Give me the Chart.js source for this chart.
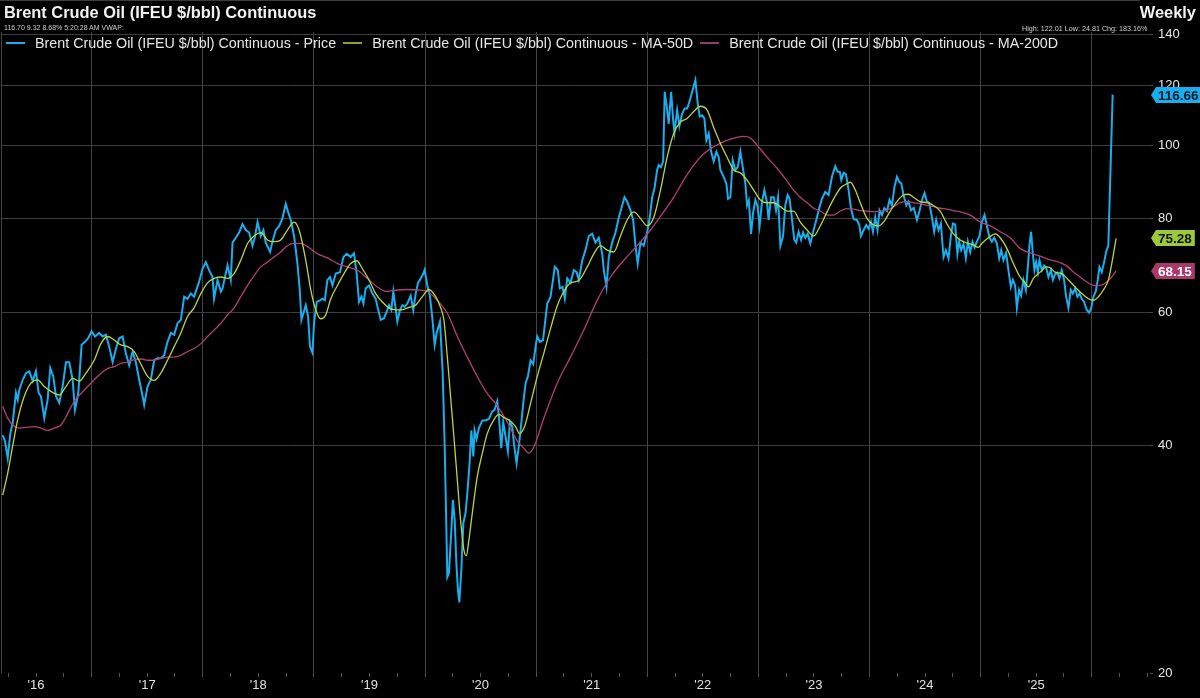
<!DOCTYPE html>
<html>
<head>
<meta charset="utf-8">
<title>Brent Crude Oil (IFEU $/bbl) Continuous</title>
<script src="https://cdn.jsdelivr.net/npm/chart.js"></script>
<style>
  html, body { margin: 0; padding: 0; background: #000; }
  #wrap { position: relative; width: 1200px; height: 698px; background: #000; overflow: hidden;
          font-family: Arial, "Liberation Sans", sans-serif; color: #e6e6e6; }
  #wrap canvas { position: absolute; left: 0; top: 0; }
  .topline { position: absolute; left: 0; top: 0; width: 1140px; height: 1px; background: #3c3c3c; }
  .title { position: absolute; left: 4px; top: 3px; font-size: 16.4px; font-weight: bold; color: #f2f2f2; white-space: nowrap; }
  .weekly { position: absolute; right: 4px; top: 3px; font-size: 16.4px; font-weight: bold; color: #f2f2f2; }
  .quote { position: absolute; left: 4px; top: 24px; font-size: 7px; line-height: 8px; color: #cfcfcf; white-space: nowrap; }
  .range { position: absolute; left: 1022px; top: 25px; font-size: 7.2px; line-height: 8px; color: #cfcfcf; white-space: nowrap; }
  #legend { position: absolute; left: 6px; top: 35px; font-size: 14.3px; line-height: 16px; color: #e6e6e6; white-space: nowrap; }
  #legend .item { display: inline-block; margin-right: 7px; }
  #legend .swatch { display: inline-block; width: 19px; height: 0; vertical-align: middle; margin-right: 10px; position: relative; top: -1px; }
</style>
</head>
<body>
<div id="wrap">
  <canvas id="brentChart"></canvas>
  <div class="topline"></div>
  <div class="title">Brent Crude Oil (IFEU $/bbl) Continuous</div>
  <div class="weekly">Weekly</div>
  <div class="quote">116.70 9.32 8.68% 5:20:28 AM VWAP:</div>
  <div class="range">High: 122.01 Low: 24.81 Chg: 183.16%</div>
  <div id="legend"></div>
</div>
<script>
  // weekly closes, dates as decimal years
  const priceDates = [
    2016.200, 2016.221, 2016.245, 2016.268, 2016.290, 2016.319, 2016.335, 2016.349, 2016.380, 2016.409,
    2016.439, 2016.470, 2016.499, 2016.523, 2016.544, 2016.574, 2016.604, 2016.628, 2016.655, 2016.679,
    2016.709, 2016.739, 2016.769, 2016.799, 2016.829, 2016.850, 2016.880, 2016.910, 2016.940, 2016.969,
    2017.000, 2017.030, 2017.068, 2017.099, 2017.129, 2017.158, 2017.189, 2017.219, 2017.248, 2017.279,
    2017.308, 2017.338, 2017.369, 2017.398, 2017.428, 2017.459, 2017.473, 2017.503, 2017.533, 2017.563,
    2017.593, 2017.623, 2017.653, 2017.683, 2017.713, 2017.743, 2017.773, 2017.803, 2017.833, 2017.863,
    2017.893, 2017.922, 2017.967, 2017.998, 2018.028, 2018.057, 2018.088, 2018.102, 2018.133, 2018.163,
    2018.178, 2018.207, 2018.223, 2018.252, 2018.268, 2018.297, 2018.327, 2018.358, 2018.387, 2018.417,
    2018.448, 2018.468, 2018.493, 2018.522, 2018.546, 2018.567, 2018.606, 2018.627, 2018.657, 2018.687,
    2018.717, 2018.747, 2018.768, 2018.792, 2018.822, 2018.852, 2018.873, 2018.888, 2018.927, 2018.948,
    2018.965, 2018.987, 2019.001, 2019.026, 2019.055, 2019.077, 2019.098, 2019.122, 2019.145, 2019.167,
    2019.197, 2019.235, 2019.266, 2019.295, 2019.331, 2019.361, 2019.385, 2019.406, 2019.428, 2019.446,
    2019.466, 2019.496, 2019.527, 2019.556, 2019.577, 2019.601, 2019.631, 2019.655, 2019.676, 2019.697,
    2019.715, 2019.736, 2019.751, 2019.775, 2019.796, 2019.817, 2019.841, 2019.871, 2019.895, 2019.916,
    2019.937, 2019.961, 2019.985, 2019.997, 2020.021, 2020.044, 2020.066, 2020.087, 2020.105, 2020.135,
    2020.159, 2020.177, 2020.201, 2020.215, 2020.237, 2020.251, 2020.267, 2020.282, 2020.296, 2020.309,
    2020.327, 2020.345, 2020.365, 2020.381, 2020.401, 2020.417, 2020.435, 2020.446, 2020.464, 2020.485,
    2020.516, 2020.545, 2020.575, 2020.605, 2020.626, 2020.650, 2020.665, 2020.686, 2020.704, 2020.725,
    2020.746, 2020.764, 2020.785, 2020.800, 2020.824, 2020.845, 2020.860, 2020.884, 2020.905, 2020.926,
    2020.950, 2020.974, 2020.995, 2021.010, 2021.034, 2021.062, 2021.100, 2021.130, 2021.168, 2021.195,
    2021.213, 2021.238, 2021.258, 2021.280, 2021.309, 2021.339, 2021.364, 2021.384, 2021.415, 2021.444,
    2021.474, 2021.505, 2021.534, 2021.564, 2021.595, 2021.609, 2021.633, 2021.654, 2021.684, 2021.714,
    2021.744, 2021.774, 2021.795, 2021.819, 2021.849, 2021.873, 2021.894, 2021.914, 2021.939, 2021.968,
    2021.999, 2022.022, 2022.044, 2022.065, 2022.089, 2022.103, 2022.123, 2022.143, 2022.157, 2022.179,
    2022.193, 2022.215, 2022.233, 2022.245, 2022.269, 2022.289, 2022.314, 2022.337, 2022.359, 2022.379,
    2022.404, 2022.433, 2022.454, 2022.472, 2022.494, 2022.514, 2022.532, 2022.553, 2022.575, 2022.598,
    2022.622, 2022.643, 2022.658, 2022.688, 2022.712, 2022.727, 2022.748, 2022.769, 2022.793, 2022.815,
    2022.838, 2022.859, 2022.883, 2022.898, 2022.914, 2022.934, 2022.952, 2022.973, 2022.993, 2023.011,
    2023.033, 2023.054, 2023.078, 2023.092, 2023.114, 2023.139, 2023.159, 2023.177, 2023.198, 2023.222,
    2023.242, 2023.263, 2023.281, 2023.303, 2023.323, 2023.341, 2023.362, 2023.384, 2023.402, 2023.422,
    2023.443, 2023.467, 2023.491, 2023.521, 2023.551, 2023.572, 2023.602, 2023.632, 2023.662, 2023.692,
    2023.713, 2023.733, 2023.746, 2023.767, 2023.788, 2023.812, 2023.833, 2023.857, 2023.887, 2023.908,
    2023.923, 2023.947, 2023.971, 2023.992, 2024.013, 2024.031, 2024.052, 2024.072, 2024.090, 2024.112,
    2024.133, 2024.157, 2024.180, 2024.202, 2024.225, 2024.247, 2024.268, 2024.286, 2024.306, 2024.331,
    2024.351, 2024.373, 2024.398, 2024.427, 2024.450, 2024.472, 2024.495, 2024.516, 2024.537, 2024.562,
    2024.582, 2024.600, 2024.621, 2024.642, 2024.666, 2024.687, 2024.711, 2024.732, 2024.750, 2024.771,
    2024.791, 2024.807, 2024.825, 2024.846, 2024.867, 2024.885, 2024.906, 2024.927, 2024.946, 2024.966,
    2024.990, 2025.011, 2025.035, 2025.056, 2025.080, 2025.101, 2025.122, 2025.146, 2025.167, 2025.185,
    2025.205, 2025.229, 2025.250, 2025.272, 2025.290, 2025.310, 2025.326, 2025.346, 2025.364, 2025.385,
    2025.407, 2025.425, 2025.439, 2025.454, 2025.470, 2025.484, 2025.499, 2025.515, 2025.529, 2025.551,
    2025.571, 2025.589, 2025.610, 2025.632, 2025.650, 2025.670, 2025.691, 2025.709, 2025.730, 2025.751,
    2025.769, 2025.790, 2025.811, 2025.829, 2025.850, 2025.871, 2025.890, 2025.910, 2025.931, 2025.955,
    2025.976, 2025.994, 2026.015, 2026.036, 2026.054, 2026.069, 2026.090, 2026.111, 2026.129, 2026.149,
    2026.188
  ];
  const priceValues = [
    41.3, 40.5, 38.5, 41.5, 42.9, 47.0, 46.0, 47.4, 48.9, 49.9,
    50.2, 48.7, 50.2, 47.0, 46.5, 43.5, 46.0, 50.7, 49.4, 46.5,
    45.6, 47.9, 51.6, 51.6, 48.9, 44.6, 47.0, 54.4, 54.9, 55.5,
    56.7, 55.8, 56.4, 55.8, 56.1, 54.1, 51.6, 53.8, 55.5, 55.8,
    53.0, 51.1, 53.3, 51.6, 48.9, 46.5, 45.3, 47.9, 48.9, 51.9,
    52.2, 52.2, 52.7, 54.9, 56.4, 56.1, 58.1, 58.7, 63.0, 62.6,
    63.6, 63.0, 65.9, 68.6, 70.0, 68.3, 66.9, 62.6, 66.3, 64.0,
    64.6, 67.6, 69.3, 66.3, 74.3, 75.4, 76.6, 78.6, 77.2, 76.6,
    73.6, 75.4, 79.1, 75.8, 77.2, 74.3, 72.2, 74.5, 77.2, 78.1,
    80.0, 83.6, 81.6, 79.6, 75.8, 69.7, 64.3, 58.7, 61.4, 59.3,
    54.1, 53.1, 58.1, 62.0, 62.3, 62.6, 62.3, 66.3, 66.9, 65.2,
    67.6, 67.9, 71.1, 71.8, 71.1, 71.9, 67.6, 62.0, 63.0, 61.7,
    64.6, 65.2, 63.6, 62.6, 60.7, 58.7, 59.0, 60.2, 61.4, 60.5,
    64.0, 60.7, 58.4, 60.5, 61.4, 61.1, 61.7, 63.2, 60.5, 63.6,
    65.7, 66.6, 67.6, 68.4, 65.2, 63.2, 59.0, 54.4, 56.4, 58.4,
    50.0, 40.0, 26.8, 27.1, 30.9, 33.9, 31.9, 28.0, 25.8, 24.8,
    27.4, 31.6, 32.6, 34.6, 37.9, 41.9, 38.7, 41.9, 40.8, 42.2,
    43.2, 43.2, 43.4, 44.4, 44.6, 45.8, 43.7, 39.7, 43.0, 41.1,
    39.3, 43.0, 42.4, 40.3, 37.9, 40.0, 41.9, 45.5, 48.4, 49.4,
    51.9, 51.3, 54.1, 55.8, 54.9, 55.2, 61.7, 63.0, 69.0, 68.3,
    64.6, 64.9, 62.6, 66.6, 65.7, 68.3, 67.9, 66.3, 70.4, 72.6,
    75.8, 76.3, 74.3, 75.4, 71.8, 68.3, 64.9, 71.1, 74.3, 76.6,
    80.2, 83.2, 85.3, 84.2, 82.0, 79.6, 73.6, 69.7, 74.3, 73.6,
    76.6, 80.2, 85.3, 87.7, 92.7, 94.1, 93.5, 95.2, 117.7, 111.3,
    106.7, 117.7, 107.9, 103.9, 111.3, 106.0, 110.1, 111.8, 111.8, 114.1,
    117.7, 121.9, 113.6, 109.1, 109.5, 108.5, 101.5, 103.6, 98.0, 95.2,
    98.0, 96.4, 92.7, 90.8, 88.9, 84.9, 85.3, 95.5, 92.7, 93.6,
    98.0, 93.6, 88.9, 83.2, 84.5, 76.3, 81.3, 84.6, 82.9, 78.2,
    84.2, 87.2, 83.9, 79.6, 85.3, 85.3, 82.0, 85.3, 73.6, 75.8,
    83.2, 85.9, 84.9, 79.6, 74.9, 74.3, 76.8, 74.9, 76.6, 75.4,
    76.3, 74.1, 76.6, 79.6, 82.9, 84.9, 86.7, 85.9, 90.8, 93.8,
    92.2, 92.2, 89.9, 91.9, 91.5, 87.2, 82.5, 79.8, 79.6, 78.4,
    75.8, 77.2, 78.4, 77.5, 79.1, 76.8, 80.2, 77.2, 82.0, 80.8,
    82.5, 81.8, 84.6, 83.2, 88.1, 90.8, 89.4, 89.0, 85.9, 83.2,
    84.2, 82.0, 82.6, 79.6, 81.8, 84.6, 86.4, 84.2, 83.9, 80.2,
    76.8, 79.6, 77.2, 78.7, 71.1, 72.6, 70.8, 75.8, 78.7, 78.5,
    71.8, 74.5, 72.6, 74.0, 70.8, 74.5, 72.2, 74.5, 73.2, 74.5,
    75.8, 79.1, 80.8, 78.2, 75.4, 74.5, 75.4, 74.1, 70.8, 72.6,
    70.4, 72.0, 68.3, 64.9, 66.3, 65.2, 60.9, 64.3, 63.2, 66.3,
    64.3, 69.0, 73.6, 76.8, 71.8, 68.3, 70.0, 67.9, 70.4, 68.3,
    69.3, 68.9, 66.9, 68.3, 66.3, 67.5, 67.8, 66.6, 68.3, 66.3,
    63.0, 60.9, 64.3, 63.6, 64.6, 63.0, 63.6, 62.6, 62.0, 60.5,
    60.0, 60.8, 63.0, 64.0, 66.3, 69.0, 67.9, 70.0, 72.2, 73.6,
    116.66
  ];

  // 50-day moving average
  const ma50Dates = [
    2016.200, 2016.245, 2016.290, 2016.335, 2016.394, 2016.454, 2016.514, 2016.574, 2016.634, 2016.709,
    2016.769, 2016.829, 2016.889, 2016.949, 2017.023, 2017.084, 2017.144, 2017.203, 2017.263, 2017.324,
    2017.383, 2017.443, 2017.504, 2017.563, 2017.623, 2017.683, 2017.743, 2017.803, 2017.863, 2017.922,
    2017.983, 2018.043, 2018.102, 2018.163, 2018.223, 2018.282, 2018.342, 2018.403, 2018.462, 2018.522,
    2018.582, 2018.642, 2018.702, 2018.762, 2018.822, 2018.867, 2018.927, 2018.972, 2019.017, 2019.062,
    2019.107, 2019.152, 2019.212, 2019.271, 2019.331, 2019.385, 2019.437, 2019.496, 2019.556, 2019.616,
    2019.691, 2019.781, 2019.856, 2019.916, 2019.976, 2020.035, 2020.096, 2020.141, 2020.170, 2020.201,
    2020.230, 2020.260, 2020.291, 2020.320, 2020.350, 2020.372, 2020.395, 2020.426, 2020.470, 2020.516,
    2020.560, 2020.620, 2020.665, 2020.710, 2020.770, 2020.815, 2020.851, 2020.896, 2020.950, 2021.010,
    2021.069, 2021.130, 2021.190, 2021.249, 2021.309, 2021.384, 2021.460, 2021.519, 2021.579, 2021.639,
    2021.699, 2021.759, 2021.819, 2021.879, 2021.939, 2021.999, 2022.058, 2022.119, 2022.179, 2022.238,
    2022.298, 2022.359, 2022.418, 2022.478, 2022.539, 2022.598, 2022.658, 2022.718, 2022.778, 2022.838,
    2022.898, 2022.958, 2023.018, 2023.078, 2023.137, 2023.198, 2023.258, 2023.317, 2023.377, 2023.438,
    2023.497, 2023.557, 2023.618, 2023.677, 2023.737, 2023.797, 2023.827, 2023.872, 2023.917, 2023.977,
    2024.036, 2024.081, 2024.126, 2024.187, 2024.247, 2024.306, 2024.351, 2024.396, 2024.456, 2024.517,
    2024.576, 2024.636, 2024.696, 2024.756, 2024.816, 2024.876, 2024.933, 2024.978, 2025.011, 2025.070,
    2025.131, 2025.176, 2025.236, 2025.295, 2025.355, 2025.400, 2025.430, 2025.475, 2025.535, 2025.596,
    2025.625, 2025.670, 2025.730, 2025.790, 2025.850, 2025.910, 2025.970, 2026.015, 2026.060, 2026.104,
    2026.150, 2026.180, 2026.219
  ];
  const ma50Values = [
    34.4, 36.8, 40.0, 43.3, 46.5, 48.4, 48.9, 47.9, 47.2, 46.7,
    47.9, 49.1, 48.7, 49.9, 51.9, 54.6, 55.8, 55.2, 54.4, 54.1,
    53.3, 51.3, 49.4, 48.8, 49.9, 51.9, 54.1, 56.4, 59.3, 60.9,
    63.6, 65.7, 66.6, 66.9, 66.6, 67.6, 70.4, 74.1, 75.8, 76.6,
    74.9, 74.5, 74.9, 77.2, 79.1, 77.2, 70.4, 64.3, 60.5, 58.9,
    59.6, 62.6, 65.2, 67.6, 69.7, 70.3, 68.6, 66.3, 63.6, 62.0,
    60.7, 60.5, 61.0, 61.4, 63.0, 64.4, 63.0, 60.9, 58.7, 52.4,
    46.5, 41.1, 36.0, 31.9, 29.1, 28.6, 30.0, 32.6, 36.4, 39.1,
    41.5, 43.3, 44.0, 43.6, 43.1, 42.4, 41.5, 42.4, 45.5, 49.4,
    53.0, 57.2, 61.3, 64.0, 65.7, 66.2, 69.0, 71.8, 73.6, 72.6,
    72.2, 75.8, 79.6, 81.6, 80.0, 78.2, 80.2, 87.2, 96.4, 103.6,
    107.3, 108.5, 110.8, 112.6, 111.3, 105.5, 100.5, 96.4, 92.7, 91.9,
    89.9, 87.2, 84.6, 83.9, 83.9, 82.9, 81.8, 81.8, 79.1, 77.2,
    75.8, 78.2, 81.6, 84.9, 87.7, 88.9, 89.3, 87.2, 83.9, 80.0,
    78.4, 78.2, 79.1, 81.8, 84.2, 85.9, 86.1, 85.3, 84.2, 83.9,
    83.2, 81.8, 78.7, 76.3, 74.9, 74.2, 73.8, 73.2, 74.1, 75.4,
    76.3, 75.4, 73.0, 69.7, 66.9, 65.7, 64.9, 66.6, 67.9, 69.0,
    68.8, 67.9, 67.6, 66.3, 64.9, 63.6, 62.6, 62.3, 63.0, 64.3,
    66.3, 69.7, 75.28
  ];

  // 200-day moving average
  const ma200Dates = [
    2016.200, 2016.245, 2016.290, 2016.349, 2016.409, 2016.484, 2016.544, 2016.604, 2016.664, 2016.724,
    2016.784, 2016.844, 2016.904, 2016.964, 2017.023, 2017.084, 2017.144, 2017.203, 2017.263, 2017.324,
    2017.383, 2017.443, 2017.504, 2017.563, 2017.623, 2017.683, 2017.743, 2017.803, 2017.863, 2017.922,
    2017.983, 2018.043, 2018.102, 2018.163, 2018.223, 2018.282, 2018.342, 2018.403, 2018.462, 2018.522,
    2018.582, 2018.642, 2018.702, 2018.762, 2018.822, 2018.882, 2018.942, 2019.032, 2019.122, 2019.212,
    2019.302, 2019.392, 2019.482, 2019.571, 2019.661, 2019.751, 2019.841, 2019.931, 2020.021, 2020.111,
    2020.201, 2020.291, 2020.381, 2020.470, 2020.560, 2020.650, 2020.740, 2020.830, 2020.889, 2020.934,
    2020.979, 2021.069, 2021.190, 2021.309, 2021.429, 2021.549, 2021.669, 2021.789, 2021.909, 2022.029,
    2022.148, 2022.238, 2022.328, 2022.418, 2022.508, 2022.598, 2022.688, 2022.778, 2022.868, 2022.928,
    2022.988, 2023.078, 2023.168, 2023.258, 2023.317, 2023.377, 2023.438, 2023.497, 2023.557, 2023.618,
    2023.677, 2023.737, 2023.797, 2023.857, 2023.917, 2023.977, 2024.036, 2024.097, 2024.157, 2024.216,
    2024.276, 2024.337, 2024.396, 2024.456, 2024.517, 2024.576, 2024.636, 2024.696, 2024.756, 2024.816,
    2024.906, 2024.996, 2025.086, 2025.176, 2025.266, 2025.355, 2025.445, 2025.535, 2025.625, 2025.715,
    2025.775, 2025.835, 2025.895, 2025.955, 2026.015, 2026.075, 2026.135, 2026.180, 2026.219
  ];
  const ma200Values = [
    45.1, 43.5, 42.6, 42.2, 42.3, 42.4, 42.2, 41.9, 42.2, 42.6,
    44.1, 45.8, 46.9, 47.9, 48.9, 49.9, 50.6, 50.9, 51.4, 51.6,
    52.0, 52.1, 51.9, 51.9, 52.2, 52.4, 52.4, 52.7, 53.3, 53.8,
    54.6, 55.8, 56.9, 58.1, 59.6, 60.9, 63.0, 65.2, 67.2, 69.0,
    70.0, 71.1, 72.2, 73.6, 74.1, 74.1, 73.4, 71.8, 70.9, 69.7,
    69.0, 68.3, 66.6, 64.9, 64.0, 64.3, 64.4, 64.3, 64.0, 62.3,
    59.9, 55.8, 52.4, 49.4, 46.9, 45.2, 43.0, 40.6, 39.7, 39.1,
    39.8, 43.5, 48.4, 52.4, 56.9, 62.3, 66.9, 70.4, 73.6, 77.2,
    81.6, 85.3, 89.9, 94.1, 97.4, 99.5, 101.1, 102.2, 102.7, 102.2,
    100.0, 96.4, 93.2, 89.6, 87.2, 85.3, 83.9, 82.5, 81.8, 80.8,
    80.8, 81.8, 82.4, 82.3, 81.9, 81.8, 81.6, 81.8, 82.0, 82.9,
    83.9, 84.2, 83.9, 83.7, 83.2, 82.9, 82.5, 82.3, 81.9, 81.6,
    80.8, 79.1, 78.2, 76.8, 75.4, 73.0, 72.0, 71.3, 70.5, 69.9,
    69.2, 67.9, 66.9, 65.9, 65.2, 65.2, 65.9, 66.9, 68.15
  ];

  const seriesNames = [
    "Brent Crude Oil (IFEU $/bbl) Continuous - Price",
    "Brent Crude Oil (IFEU $/bbl) Continuous - MA-50D",
    "Brent Crude Oil (IFEU $/bbl) Continuous - MA-200D"
  ];
  const yTicks = [20, 40, 60, 80, 100, 120, 140];
  const yearLabels = ["'16", "'17", "'18", "'19", "'20", "'21", "'22", "'23", "'24", "'25"];
  const firstLabelYear = 2016;
  const xMin = 2016.1845, xMax = 2026.524;

  const FONT = 'Arial, "Liberation Sans", sans-serif';

  function toPoints(xs, ys) {
    return xs.map((x, i) => ({ x: x, y: ys[i] }));
  }

  // last value tags on the right axis
  const lastValueTags = {
    id: "lastValueTags",
    afterDraw(chart) {
      const ctx = chart.ctx;
      const yScale = chart.scales.y;
      const tip = chart.chartArea.right + 1;
      ctx.save();
      ctx.font = "bold 13.5px " + FONT;
      ctx.textBaseline = "middle";
      chart.data.datasets.forEach((ds) => {
        const v = ds.data[ds.data.length - 1].y;
        const py = Math.round(yScale.getPixelForValue(v));
        const text = v.toFixed(2);
        const w = ctx.measureText(text).width + 5;
        const h = 16;
        ctx.fillStyle = ds.tagColor;
        ctx.beginPath();
        ctx.moveTo(tip, py);
        ctx.lineTo(tip + 5, py - h / 2);
        ctx.lineTo(tip + 5 + w, py - h / 2);
        ctx.lineTo(tip + 5 + w, py + h / 2);
        ctx.lineTo(tip + 5, py + h / 2);
        ctx.closePath();
        ctx.fill();
        ctx.fillStyle = ds.tagText;
        ctx.fillText(text, tip + 7, py + 1);
      });
      ctx.restore();
    }
  };

  const ctx = document.getElementById("brentChart").getContext("2d");

  const chart = new Chart(ctx, {
    type: "line",
    data: {
      datasets: [
        {
          label: seriesNames[0],
          data: toPoints(priceDates, priceValues),
          borderColor: "#1aaeee",
          borderWidth: 2,
          tension: 0,
          order: 3,
          tagColor: "#1aaeee",
          tagText: "#0b1a28",
        },
        {
          label: seriesNames[1],
          data: toPoints(ma50Dates, ma50Values),
          borderColor: "#bcd63c",
          borderWidth: 1.3,
          cubicInterpolationMode: "monotone",
          order: 1,
          tagColor: "#9cc83c",
          tagText: "#111111",
          legendColor: "#8ea233",
        },
        {
          label: seriesNames[2],
          data: toPoints(ma200Dates, ma200Values),
          borderColor: "#b33f74",
          borderWidth: 1.3,
          cubicInterpolationMode: "monotone",
          order: 2,
          tagColor: "#a9386b",
          tagText: "#ffffff",
          legendColor: "#9a3a66",
        },
      ],
    },
    options: {
      responsive: true,
      maintainAspectRatio: false,
      animation: false,
      layout: { padding: { top: 32, left: 0, right: 0, bottom: 0 } },
      elements: { point: { radius: 0, hoverRadius: 0 } },
      plugins: {
        legend: { display: false },
        tooltip: { enabled: false },
      },
      scales: {
        x: {
          type: "linear",
          position: "bottom",
          min: xMin,
          max: xMax,
          afterBuildTicks(scale) {
            const ticks = [{ value: xMin }];
            for (let q = firstLabelYear + 0.25; q < xMax; q += 0.25) ticks.push({ value: q });
            scale.ticks = ticks;
          },
          afterFit(scale) {
            scale.height = 25;
          },
          grid: {
            color: (c) => (c.tick && (Number.isInteger(c.tick.value) || c.tick.value === xMin) ? "#454545" : "rgba(0,0,0,0)"),
            tickColor: (c) => (c.tick && c.tick.value === xMin ? "rgba(0,0,0,0)" : "#555555"),
            tickLength: 4,
            lineWidth: 1,
          },
          border: { display: false },
          ticks: {
            autoSkip: false,
            maxRotation: 0,
            padding: 1,
            color: "#e2e2e2",
            font: { family: FONT, size: 13 },
            callback: (value) => {
              if (value % 1 !== 0.5) return "";
              const label = yearLabels[Math.floor(value) - firstLabelYear];
              return label === undefined ? "" : label;
            },
          },
        },
        y: {
          type: "logarithmic",
          position: "right",
          min: 20,
          max: 141.2,
          afterBuildTicks(scale) {
            scale.ticks = yTicks.map((v) => ({ value: v }));
          },
          afterFit(scale) {
            scale.width = 50;
          },
          grid: {
            color: (c) => (c.tick && c.tick.value === 20 ? "rgba(0,0,0,0)" : "#3d3d3d"),
            tickColor: "#4a4a4a",
            tickLength: 3,
          },
          border: { display: false },
          ticks: {
            padding: 5,
            color: "#e6e6e6",
            font: { family: FONT, size: 13 },
            callback: (value) => String(value),
          },
        },
      },
    },
    plugins: [lastValueTags],
  });

  // legend drawn as html from the chart's own datasets
  const legendEl = document.getElementById("legend");
  chart.data.datasets.forEach((ds) => {
    const item = document.createElement("span");
    item.className = "item";
    const sw = document.createElement("span");
    sw.className = "swatch";
    sw.style.borderTop = "2px solid " + (ds.legendColor || ds.borderColor);
    item.appendChild(sw);
    item.appendChild(document.createTextNode(ds.label));
    legendEl.appendChild(item);
  });
</script>
</body>
</html>
